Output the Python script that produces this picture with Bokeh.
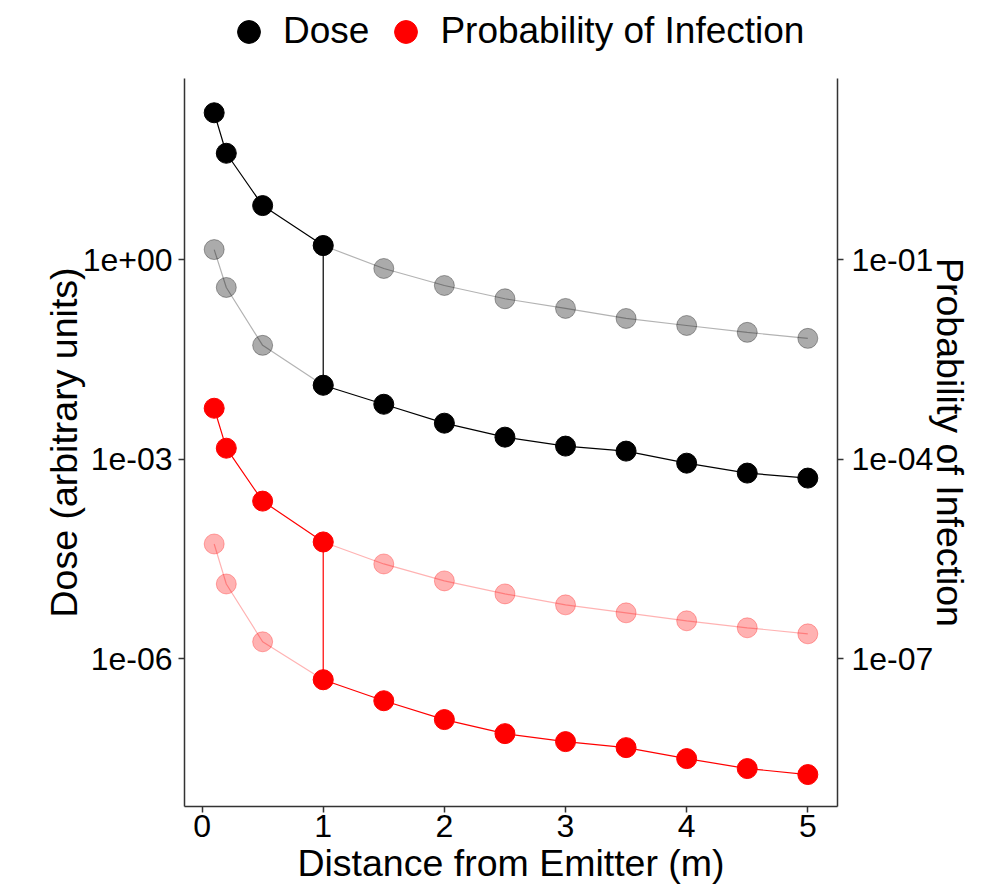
from bokeh.plotting import figure
from bokeh.layouts import column
from bokeh.models import (Range1d, LogAxis, LogScale, FixedTicker, Legend, LegendItem,
                          CustomJSTickFormatter)
from bokeh.embed import file_html
from bokeh.resources import INLINE

# ---------------- data ----------------
distance = [0.1, 0.2, 0.5, 1.0, 1.5, 2.0, 2.5, 3.0, 3.5, 4.0, 4.5, 5.0]
dose_no_reduction = [160.3, 39.5, 6.46, 1.62, 0.733, 0.407, 0.257, 0.184, 0.130, 0.102, 0.0804, 0.0653]
dose_reduced = [1.41, 0.380, 0.0513, 0.0129, 0.00668, 0.00347, 0.00214, 0.00157, 0.00132, 0.00087, 0.000617, 0.000519]
prob_no_reduction = [5.82e-4, 1.46e-4, 2.34e-5, 5.69e-6, 2.66e-6, 1.48e-6, 9.44e-7, 6.46e-7, 4.90e-7, 3.72e-7, 2.92e-7, 2.37e-7]
prob_reduced = [5.31e-6, 1.33e-6, 1.80e-7, 4.84e-8, 2.34e-8, 1.22e-8, 7.50e-9, 5.69e-9, 4.62e-9, 3.16e-9, 2.24e-9, 1.82e-9]
switch_distance = 1.0
x_ticks = [0, 1, 2, 3, 4, 5]
dose_ticks = [1e-6, 1e-3, 1.0]
prob_ticks = [1e-7, 1e-4, 1e-1]
legend_labels = ["Dose", "Probability of Infection"]
series_colors = ["black", "red"]

# ---------------- derived paths ----------------
i = distance.index(switch_distance)
solid_x = distance[:i + 1] + distance[i:]
solid_dose = dose_no_reduction[:i + 1] + dose_reduced[i:]
solid_prob = prob_no_reduction[:i + 1] + prob_reduced[i:]
fade_x_a, fade_x_b = distance[:i + 1], distance[i:]
fade_dose_a, fade_dose_b = dose_reduced[:i + 1], dose_no_reduction[i:]
fade_prob_a, fade_prob_b = prob_reduced[:i + 1], prob_no_reduction[i:]

FONT = "Liberation Sans"
TITLE_SIZE = "37.5px"
LEGEND_SIZE = "37px"
X_RANGE = (-0.145, 5.245)

# panel limits (log10); right axis = left axis x 0.1
dose_lo, dose_hi = -8.22, 2.72
prob_shift = -1.0

# ---------------- legend strip (top) ----------------
# same frame geometry as the chart below; its y-range holds none of the data,
# so only the legend entries are visible
leg = figure(frame_width=653, frame_height=78, min_border_left=184,
             min_border_right=0, min_border_top=0, min_border_bottom=0,
             x_range=Range1d(*X_RANGE), y_range=Range1d(-2, -1),
             output_backend="svg", toolbar_location=None,
             x_axis_location=None, y_axis_location=None)
leg.outline_line_color = None
leg.xgrid.visible = False
leg.ygrid.visible = False
leg_renderers = [leg.scatter(solid_x, ys, size=20, fill_color=c, line_color=c)
                 for ys, c in zip([solid_dose, solid_prob], series_colors)]
legend = Legend(items=[LegendItem(label=lab, renderers=[r])
                       for lab, r in zip(legend_labels, leg_renderers)],
                orientation="horizontal", location=(36, 18.5),
                glyph_width=57, glyph_height=57, label_standoff=6, spacing=8,
                padding=0, margin=0, border_line_alpha=0, background_fill_alpha=0,
                label_text_font=FONT, label_text_font_size=LEGEND_SIZE,
                label_text_color="black")
leg.add_layout(legend, "center")

# ---------------- main chart ----------------
p = figure(frame_width=653, frame_height=728,
           x_range=Range1d(*X_RANGE),
           y_range=Range1d(10 ** dose_lo, 10 ** dose_hi),
           y_axis_type="log",
           output_backend="svg", toolbar_location=None,
           min_border_left=184, min_border_top=0,
           min_border_right=0, min_border_bottom=0)
p.extra_y_ranges = {"prob": Range1d(10 ** (dose_lo + prob_shift), 10 ** (dose_hi + prob_shift))}
p.extra_y_scales = {"prob": LogScale()}
p.add_layout(LogAxis(y_range_name="prob", axis_label="Probability of Infection"), "right")

p.outline_line_color = None
p.xgrid.visible = False
p.ygrid.visible = False
p.background_fill_color = "white"

fmt_code = """
const e = Math.round(Math.log10(tick));
const s = e < 0 ? "-" : "+";
const a = Math.abs(e);
return "1e" + s + (a < 10 ? "0" : "") + a;
"""

# faded (alternative scenario) layers
for xs, ys in [(fade_x_a, fade_dose_a), (fade_x_b, fade_dose_b)]:
    p.line(xs, ys, line_color="black", line_alpha=0.3, line_width=1.2)
    p.scatter(xs, ys, size=20, fill_color="black", fill_alpha=0.33,
              line_color="black", line_alpha=0.33, line_width=1)
for xs, ys in [(fade_x_a, fade_prob_a), (fade_x_b, fade_prob_b)]:
    p.line(xs, ys, line_color="red", line_alpha=0.3, line_width=1.2, y_range_name="prob")
    p.scatter(xs, ys, size=20, fill_color="red", fill_alpha=0.3,
              line_color="red", line_alpha=0.3, line_width=1, y_range_name="prob")

# solid layers
p.line(solid_x, solid_dose, line_color="black", line_width=1.2)
p.scatter(solid_x, solid_dose, size=20, fill_color="black", line_color="black")
p.line(solid_x, solid_prob, line_color="red", line_width=1.2, y_range_name="prob")
p.scatter(solid_x, solid_prob, size=20, fill_color="red", line_color="red",
          y_range_name="prob")

# axes
left, right, bottom = p.yaxis[0], p.yaxis[1], p.xaxis[0]
left.axis_label = "Dose (arbitrary units)"
bottom.axis_label = "Distance from Emitter (m)"
left.ticker = FixedTicker(ticks=dose_ticks)
right.ticker = FixedTicker(ticks=prob_ticks)
bottom.ticker = FixedTicker(ticks=x_ticks)
left.formatter = CustomJSTickFormatter(code=fmt_code)
right.formatter = CustomJSTickFormatter(code=fmt_code)

for ax in (left, right, bottom):
    ax.axis_line_color = "#333333"
    ax.axis_line_width = 1.5
    ax.major_tick_line_color = "#333333"
    ax.major_tick_line_width = 1.5
    ax.major_tick_out = 6
    ax.major_tick_in = 0
    ax.minor_tick_line_color = None
    ax.major_label_text_font = FONT
    ax.major_label_text_font_size = "32px"
    ax.major_label_text_color = "black"
    ax.axis_label_text_font = FONT
    ax.axis_label_text_font_size = TITLE_SIZE
    ax.axis_label_text_font_style = "normal"
    ax.axis_label_text_color = "black"

left.major_label_standoff = 6
left.axis_label_standoff = -5
right.major_label_standoff = 8
right.axis_label_standoff = -7
bottom.major_label_standoff = 2
bottom.axis_label_standoff = 2

layout = column(leg, p, spacing=0)
open("out.html", "w").write(file_html(layout, INLINE))
